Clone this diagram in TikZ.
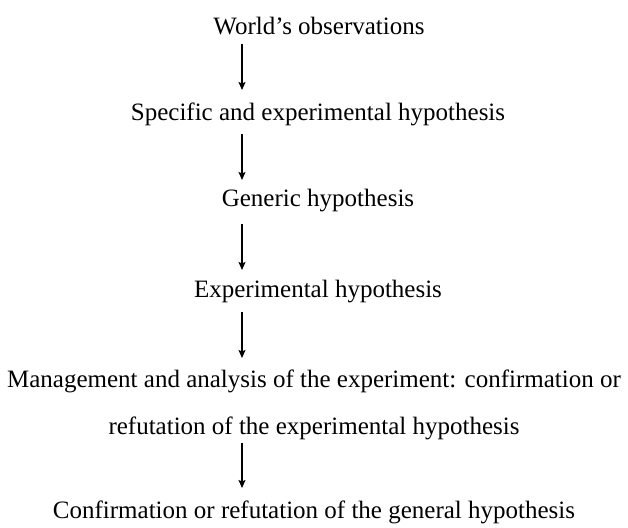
\documentclass[tikz,border=0pt]{standalone}
\usepackage{fontspec}
\setmainfont{Liberation Serif}
\usetikzlibrary{arrows.meta}
\begin{document}
\begin{tikzpicture}[x=1pt,y=-1pt,
  lbl/.style={inner sep=0pt,anchor=base,font=\fontsize{25}{30}\selectfont},
  arr/.style={-{Stealth[length=8pt,width=7pt,inset=1.5pt]},line width=1.3pt}]
\useasboundingbox (0,0) rectangle (628,527);
\node[lbl] (n1) at (319,35) {World’s observations};
\node[lbl] (n2) at (318,120) {Specific and experimental hypothesis};
\node[lbl] (n3) at (318,206) {Generic hypothesis};
\node[lbl] (n4) at (318,297) {Experimental hypothesis};
\node[lbl] (n5a) at (314,387) {Management and analysis of the experiment: confirmation or};
\node[lbl] (n5b) at (314,434) {refutation of the experimental hypothesis};
\node[lbl] (n6) at (314,518) {Confirmation or refutation of the general hypothesis};
\coordinate (a1s) at (242,44); \coordinate (a1e) at (242,90);
\coordinate (a2s) at (242,134); \coordinate (a2e) at (242,180);
\coordinate (a3s) at (242,224); \coordinate (a3e) at (242,270);
\coordinate (a4s) at (242,312); \coordinate (a4e) at (242,358);
\coordinate (a5s) at (242,443); \coordinate (a5e) at (242,488);
\draw[arr] (a1s) -- (a1e);
\draw[arr] (a2s) -- (a2e);
\draw[arr] (a3s) -- (a3e);
\draw[arr] (a4s) -- (a4e);
\draw[arr] (a5s) -- (a5e);
\end{tikzpicture}
\end{document}
